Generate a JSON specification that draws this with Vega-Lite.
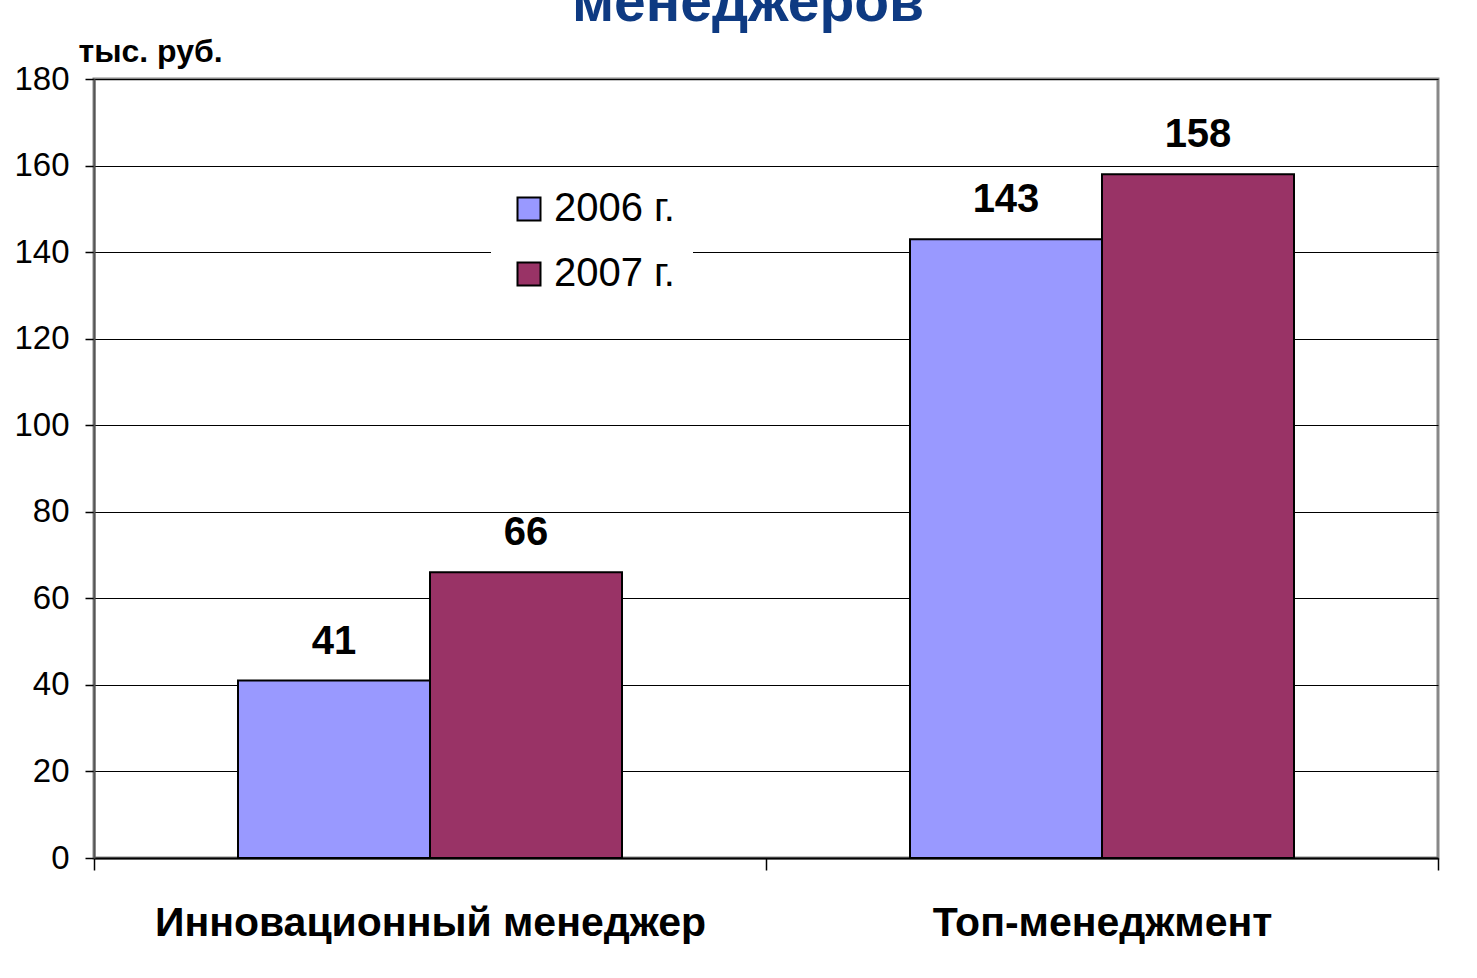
{
  "$schema": "https://vega.github.io/schema/vega-lite/v6.json",
  "width": 1344,
  "height": 779,
  "autosize": {"type": "none"},
  "padding": {"left": 94, "top": 79, "right": 39, "bottom": 120},
  "background": "#ffffff",
  "title": {
    "text": "менеджеров",
    "font": "Liberation Sans",
    "fontSize": 57,
    "fontWeight": "bold",
    "color": "#0e3a82",
    "anchor": "middle",
    "dx": -18,
    "dy": 8,
    "offset": 10
  },
  "data": {
    "values": [
      {"cat": "Инновационный менеджер", "year": "2006 г.", "value": 41},
      {"cat": "Инновационный менеджер", "year": "2007 г.", "value": 66},
      {"cat": "Топ-менеджмент", "year": "2006 г.", "value": 143},
      {"cat": "Топ-менеджмент", "year": "2007 г.", "value": 158}
    ]
  },
  "encoding": {
    "x": {
      "field": "cat",
      "type": "nominal",
      "sort": null,
      "scale": {"paddingInner": 0, "paddingOuter": 0},
      "axis": {
        "title": null,
        "labelAngle": 0,
        "labelLimit": 0,
        "labelFont": "Liberation Sans",
        "labelFontSize": 41,
        "labelFontWeight": "bold",
        "labelColor": "#000000",
        "labelBaseline": "alphabetic",
        "labelPadding": 65,
        "tickBand": "extent",
        "tickSize": 12,
        "tickColor": "#000000",
        "tickWidth": 1.5,
        "domainColor": "#000000",
        "domainWidth": 2,
        "grid": false
      }
    },
    "xOffset": {
      "field": "year",
      "type": "nominal",
      "scale": {"paddingInner": 0, "paddingOuter": 0.75}
    },
    "y": {
      "field": "value",
      "type": "quantitative",
      "scale": {"domain": [0, 180], "nice": false},
      "axis": {
        "values": [0, 20, 40, 60, 80, 100, 120, 140, 160, 180],
        "title": "тыс. руб.",
        "titleAngle": 0,
        "titleAlign": "left",
        "titleBaseline": "alphabetic",
        "titleX": -16,
        "titleY": -18,
        "titleFont": "Liberation Sans",
        "titleFontSize": 32,
        "titleFontWeight": "bold",
        "titleColor": "#000000",
        "labelFont": "Liberation Sans",
        "labelFontSize": 33,
        "labelColor": "#000000",
        "labelPadding": 16,
        "tickSize": 9,
        "tickColor": "#000000",
        "tickWidth": 1.5,
        "domainColor": "#555555",
        "domainWidth": 2,
        "grid": true,
        "gridColor": "#000000",
        "gridWidth": 1.2,
        "gridOpacity": 1
      }
    }
  },
  "layer": [
    {
      "mark": {"type": "bar", "stroke": "#000000", "strokeWidth": 2},
      "encoding": {
        "color": {
          "field": "year",
          "type": "nominal",
          "scale": {"domain": ["2006 г.", "2007 г."], "range": ["#9999ff", "#993366"]},
          "legend": {
            "title": null,
            "orient": "none",
            "legendX": 397,
            "legendY": 92,
            "padding": 18,
            "fillColor": "#ffffff",
            "symbolType": "square",
            "symbolSize": 529,
            "symbolStrokeColor": "#000000",
            "symbolStrokeWidth": 2,
            "symbolOpacity": 1,
            "labelFont": "Liberation Sans",
            "labelFontSize": 40,
            "labelColor": "#000000",
            "labelOffset": 5,
            "rowPadding": 25
          }
        }
      }
    },
    {
      "mark": {
        "type": "text",
        "baseline": "alphabetic",
        "dy": -27,
        "font": "Liberation Sans",
        "fontSize": 40,
        "fontWeight": "bold",
        "color": "#000000"
      },
      "encoding": {
        "text": {"field": "value", "type": "quantitative"}
      }
    }
  ],
  "config": {
    "view": {"stroke": "#888888", "strokeWidth": 3}
  }
}
